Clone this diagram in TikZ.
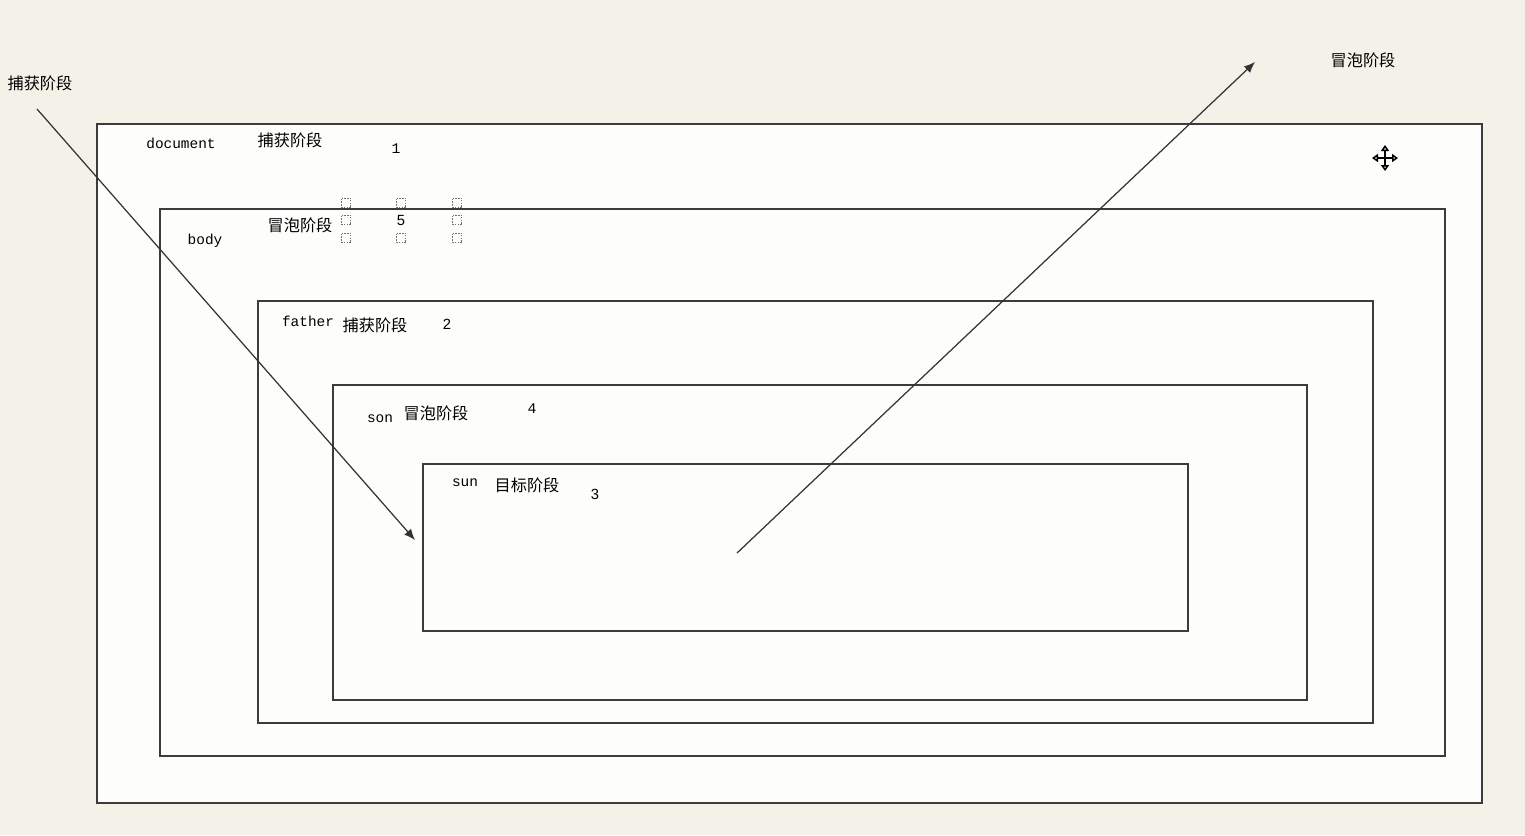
\documentclass[tikz,border=0pt]{standalone}
\usepackage{fontspec}
\newfontfamily\cjk{Noto Sans CJK SC}
\setmonofont{Liberation Mono}
\setsansfont{Liberation Sans}
\usetikzlibrary{arrows.meta,positioning}
\definecolor{paper}{RGB}{243,241,232}
\definecolor{sheet}{RGB}{253,253,251}
\definecolor{edge}{RGB}{60,60,60}
\tikzset{
  layer/.style={draw=edge, line width=0.45pt, fill=sheet},
  tag/.style={inner sep=0pt, font=\fontsize{4.1}{5}\selectfont\ttfamily},
  phase/.style={inner sep=0pt, font=\fontsize{4.6}{5}\selectfont\cjk},
  num/.style={inner sep=0pt, font=\fontsize{4.2}{5}\selectfont\sffamily},
  handle/.style={draw=black!55, dash pattern=on 0.45pt off 0.3pt, line width=0.3pt, minimum size=0.95mm, inner sep=0pt},
  flow/.style={-{Latex[length=1.1mm,width=0.9mm]}, line width=0.35pt, black!80},
  movetip/.style={{Triangle[open,length=0.6mm,width=0.8mm]}-{Triangle[open,length=0.6mm,width=0.8mm]}, line width=0.5pt}
}

\begin{document}
\begin{tikzpicture}[x=0.01cm,y=-0.01cm]
  \fill[paper] (0,0) rectangle (1525,835);
  \useasboundingbox (0,0) rectangle (1525,835);
  % nested boxes
  \draw[layer] (97,124) rectangle (1482,803);
  \draw[layer] (160,209) rectangle (1445,756);
  \draw[layer] (258,301) rectangle (1373,723);
  \draw[layer] (333,385) rectangle (1307,700);
  \draw[layer] (423,464) rectangle (1188,631);
  % labels
  \node[phase] (capin) at (40,83) {捕获阶段};
  \node[phase] (bubout) at (1363,60) {冒泡阶段};
  \node[tag] (doc) at (181,143) {document};
  \node[phase] (docp) at (290,140) {捕获阶段};
  \node[num, font=\fontsize{4.2}{5}\selectfont\ttfamily] (n1) at (396,149) {1};
  \node[tag] (body) at (205,241) {body};
  \node[phase] (bodyp) at (300,225) {冒泡阶段};
  \node[num] (n5) at (401,220) {5};
  \foreach \x in {346,401,457} {
    \node[handle] at (\x,203) {};
    \node[handle] at (\x,238) {};
  }
  \node[handle] at (346,220) {};
  \node[handle] at (457,220) {};
  \node[tag] (fat) at (308,321) {father};
  \node[phase] (fatp) at (375,325) {捕获阶段};
  \node[num] (n2) at (447,324) {2};
  \node[tag] (son) at (380,419) {son};
  \node[phase] (sonp) at (436,413) {冒泡阶段};
  \node[num, font=\fontsize{4.2}{5}\selectfont\ttfamily] (n4) at (532,409) {4};
  \node[tag] (sun) at (465,483) {sun};
  \node[phase] (sunp) at (527,485) {目标阶段};
  \node[num] (n3) at (595,494) {3};
  % event paths
  \coordinate (cstart) at (37,109);
  \coordinate (cend) at (415,540);
  \coordinate (bstart) at (737,553);
  \coordinate (bend) at (1255,62);
  \draw[flow] (cstart) -- (cend);
  \draw[flow] (bstart) -- (bend);
  % move cursor
  \coordinate (mv) at (1385,158);
  \draw[movetip] ([xshift=-1.3mm]mv) -- ([xshift=1.3mm]mv);
  \draw[movetip] ([yshift=-1.3mm]mv) -- ([yshift=1.3mm]mv);
\end{tikzpicture}
\end{document}
